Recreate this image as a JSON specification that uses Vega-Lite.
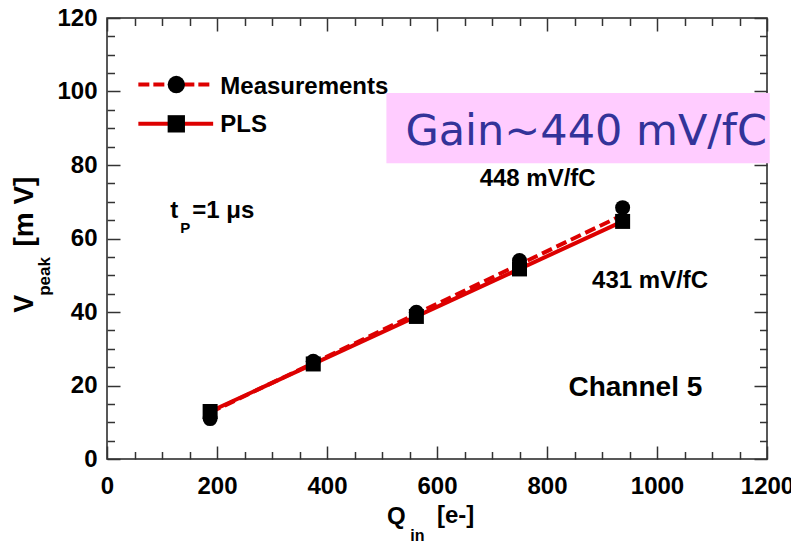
{
  "$schema": "https://vega.github.io/schema/vega-lite/v6.json",
  "width": 660,
  "height": 441,
  "autosize": "none",
  "padding": {"left": 107, "top": 18, "right": 24, "bottom": 87},
  "background": "white",
  "config": {
    "view": {"stroke": "#222222", "strokeWidth": 1.5},
    "axis": {
      "labelFont": "Liberation Sans",
      "labelFontWeight": "bold",
      "labelFontSize": 24,
      "labelColor": "black",
      "labelFlush": false,
      "labelOverlap": false,
      "format": "d",
      "tickColor": "#333333",
      "tickWidth": 1.5,
      "domain": false,
      "grid": false,
      "title": null
    },
    "text": {"font": "Liberation Sans", "fontWeight": "bold", "fontSize": 24, "align": "left", "baseline": "alphabetic", "color": "black"}
  },
  "datasets": {
    "measFit": [{"q": 187.5, "v": 12.64}, {"q": 937.5, "v": 66.4}],
    "plsFit": [{"q": 187.5, "v": 12.93}, {"q": 937.5, "v": 64.65}],
    "meas": [
      {"q": 187.5, "v": 11.0},
      {"q": 375, "v": 26.6},
      {"q": 562.5, "v": 39.9},
      {"q": 750, "v": 54.0},
      {"q": 937.5, "v": 68.4}
    ],
    "pls": [
      {"q": 187.5, "v": 12.93},
      {"q": 375, "v": 25.86},
      {"q": 562.5, "v": 38.79},
      {"q": 750, "v": 51.72},
      {"q": 937.5, "v": 64.65}
    ]
  },
  "resolve": {"axis": {"x": "independent", "y": "independent"}},
  "layer": [
    {
      "data": {"name": "measFit"},
      "mark": {"type": "line", "color": "#dd0000", "strokeWidth": 4, "strokeDash": [11, 5]},
      "encoding": {
        "x": {"field": "q", "type": "quantitative",
              "scale": {"domain": [0, 1200], "nice": false, "zero": false},
              "axis": {"orient": "bottom", "values": [0, 200, 400, 600, 800, 1000, 1200], "tickSize": -13, "labelPadding": 28}},
        "y": {"field": "v", "type": "quantitative",
              "scale": {"domain": [0, 120], "nice": false, "zero": false},
              "axis": {"orient": "left", "values": [0, 20, 40, 60, 80, 100, 120], "tickSize": -13, "labelPadding": 23}}
      }
    },
    {
      "data": {"name": "plsFit"},
      "mark": {"type": "line", "color": "#dd0000", "strokeWidth": 4},
      "encoding": {
        "x": {"field": "q", "type": "quantitative",
              "axis": {"orient": "bottom", "values": [50, 100, 150, 250, 300, 350, 450, 500, 550, 650, 700, 750, 850, 900, 950, 1050, 1100, 1150], "tickSize": -7.5, "labels": false}},
        "y": {"field": "v", "type": "quantitative",
              "axis": {"orient": "left", "values": [5, 10, 15, 25, 30, 35, 45, 50, 55, 65, 70, 75, 85, 90, 95, 105, 110, 115], "tickSize": -7.5, "labels": false}}
      }
    },
    {
      "data": {"name": "meas"},
      "mark": {"type": "point", "shape": "circle", "filled": true, "color": "black", "opacity": 1, "size": 225},
      "encoding": {
        "x": {"field": "q", "type": "quantitative",
              "axis": {"orient": "top", "values": [0, 200, 400, 600, 800, 1000, 1200], "tickSize": -13, "labels": false}},
        "y": {"field": "v", "type": "quantitative",
              "axis": {"orient": "right", "values": [0, 20, 40, 60, 80, 100, 120], "tickSize": -13, "labels": false}}
      }
    },
    {
      "data": {"name": "pls"},
      "mark": {"type": "point", "shape": "square", "filled": true, "color": "black", "opacity": 1, "size": 225},
      "encoding": {
        "x": {"field": "q", "type": "quantitative",
              "axis": {"orient": "top", "values": [50, 100, 150, 250, 300, 350, 450, 500, 550, 650, 700, 750, 850, 900, 950, 1050, 1100, 1150], "tickSize": -7.5, "labels": false}},
        "y": {"field": "v", "type": "quantitative",
              "axis": {"orient": "right", "values": [5, 10, 15, 25, 30, 35, 45, 50, 55, 65, 70, 75, 85, 90, 95, 105, 110, 115], "tickSize": -7.5, "labels": false}}
      }
    },
    {
      "data": {"values": [{}]},
      "mark": {"type": "rule", "color": "#dd0000", "strokeWidth": 4, "strokeDash": [11, 4]},
      "encoding": {
        "x": {"datum": 57, "type": "quantitative", "axis": null},
        "x2": {"datum": 193},
        "y": {"datum": 101.9, "type": "quantitative", "axis": null}
      }
    },
    {
      "data": {"values": [{}]},
      "mark": {"type": "rule", "color": "#dd0000", "strokeWidth": 4},
      "encoding": {
        "x": {"datum": 57, "type": "quantitative", "axis": null},
        "x2": {"datum": 193},
        "y": {"datum": 91.2, "type": "quantitative", "axis": null}
      }
    },
    {
      "data": {"values": [{}]},
      "mark": {"type": "point", "shape": "circle", "filled": true, "color": "black", "opacity": 1, "size": 300},
      "encoding": {
        "x": {"datum": 126, "type": "quantitative", "axis": null},
        "y": {"datum": 101.9, "type": "quantitative", "axis": null}
      }
    },
    {
      "data": {"values": [{}]},
      "mark": {"type": "point", "shape": "square", "filled": true, "color": "black", "opacity": 1, "size": 300},
      "encoding": {
        "x": {"datum": 126, "type": "quantitative", "axis": null},
        "y": {"datum": 91.2, "type": "quantitative", "axis": null}
      }
    },
    {
      "data": {"values": [{}]},
      "mark": {"type": "text", "text": "Measurements"},
      "encoding": {
        "x": {"datum": 206, "type": "quantitative", "axis": null},
        "y": {"datum": 99.4, "type": "quantitative", "axis": null}
      }
    },
    {
      "data": {"values": [{}]},
      "mark": {"type": "text", "text": "PLS"},
      "encoding": {
        "x": {"datum": 206, "type": "quantitative", "axis": null},
        "y": {"datum": 88.9, "type": "quantitative", "axis": null}
      }
    },
    {
      "data": {"values": [{}]},
      "mark": {"type": "rect", "color": "#ffccff", "opacity": 1},
      "encoding": {
        "x": {"datum": 508, "type": "quantitative", "axis": null},
        "x2": {"datum": 1205},
        "y": {"datum": 99.6, "type": "quantitative", "axis": null},
        "y2": {"datum": 80.5}
      }
    },
    {
      "data": {"values": [{}]},
      "mark": {"type": "text", "text": "Gain~440 mV/fC", "font": "DejaVu Sans", "fontWeight": "normal", "fontSize": 43, "color": "#333399"},
      "encoding": {
        "x": {"datum": 542.5, "type": "quantitative", "axis": null},
        "y": {"datum": 85.5, "type": "quantitative", "axis": null}
      }
    },
    {
      "data": {"values": [{}]},
      "mark": {"type": "text", "text": "t"},
      "encoding": {
        "x": {"datum": 115, "type": "quantitative", "axis": null},
        "y": {"datum": 65.7, "type": "quantitative", "axis": null}
      }
    },
    {
      "data": {"values": [{}]},
      "mark": {"type": "text", "text": "P", "fontSize": 15},
      "encoding": {
        "x": {"datum": 133, "type": "quantitative", "axis": null},
        "y": {"datum": 61.6, "type": "quantitative", "axis": null}
      }
    },
    {
      "data": {"values": [{}]},
      "mark": {"type": "text", "text": "=1  μs"},
      "encoding": {
        "x": {"datum": 155, "type": "quantitative", "axis": null},
        "y": {"datum": 65.7, "type": "quantitative", "axis": null}
      }
    },
    {
      "data": {"values": [{}]},
      "mark": {"type": "text", "text": "448 mV/fC"},
      "encoding": {
        "x": {"datum": 677.5, "type": "quantitative", "axis": null},
        "y": {"datum": 74.2, "type": "quantitative", "axis": null}
      }
    },
    {
      "data": {"values": [{}]},
      "mark": {"type": "text", "text": "431 mV/fC"},
      "encoding": {
        "x": {"datum": 882, "type": "quantitative", "axis": null},
        "y": {"datum": 46.5, "type": "quantitative", "axis": null}
      }
    },
    {
      "data": {"values": [{}]},
      "mark": {"type": "text", "text": "Channel 5", "fontSize": 28},
      "encoding": {
        "x": {"datum": 839, "type": "quantitative", "axis": null},
        "y": {"datum": 17.2, "type": "quantitative", "axis": null}
      }
    },
    {
      "data": {"values": [{}]},
      "mark": {"type": "text", "text": "V", "angle": 270, "fontSize": 27},
      "encoding": {
        "x": {"datum": -134, "type": "quantitative", "axis": null},
        "y": {"datum": 39.8, "type": "quantitative", "axis": null}
      }
    },
    {
      "data": {"values": [{}]},
      "mark": {"type": "text", "text": "peak", "angle": 270, "fontSize": 17},
      "encoding": {
        "x": {"datum": -103, "type": "quantitative", "axis": null},
        "y": {"datum": 44.4, "type": "quantitative", "axis": null}
      }
    },
    {
      "data": {"values": [{}]},
      "mark": {"type": "text", "text": "[m V]", "angle": 270, "fontSize": 28},
      "encoding": {
        "x": {"datum": -134, "type": "quantitative", "axis": null},
        "y": {"datum": 57.8, "type": "quantitative", "axis": null}
      }
    },
    {
      "data": {"values": [{}]},
      "mark": {"type": "text", "text": "Q", "fontSize": 24},
      "encoding": {
        "x": {"datum": 509, "type": "quantitative", "axis": null},
        "y": {"datum": -17.6, "type": "quantitative", "axis": null}
      }
    },
    {
      "data": {"values": [{}]},
      "mark": {"type": "text", "text": "in", "fontSize": 16},
      "encoding": {
        "x": {"datum": 551.5, "type": "quantitative", "axis": null},
        "y": {"datum": -22.2, "type": "quantitative", "axis": null}
      }
    },
    {
      "data": {"values": [{}]},
      "mark": {"type": "text", "text": "[e-]", "fontSize": 24},
      "encoding": {
        "x": {"datum": 600, "type": "quantitative", "axis": null},
        "y": {"datum": -17.4, "type": "quantitative", "axis": null}
      }
    }
  ]
}
